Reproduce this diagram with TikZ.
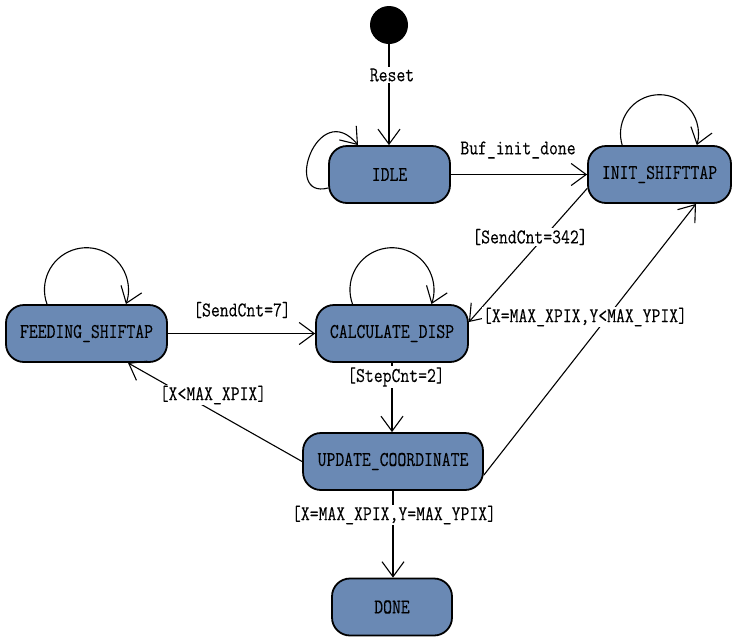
\documentclass[tikz,border=0pt]{standalone}
\usepackage{fontspec}
\newfontfamily\lblfont[FakeStretch=0.82,FakeBold=0.15]{Latin Modern Mono}
\usetikzlibrary{arrows.meta}
\definecolor{stateblue}{RGB}{106,137,180}
\begin{document}
\begin{tikzpicture}[x=1pt,y=1pt,
  every node/.style={font=\lblfont\fontsize{21pt}{24pt}\selectfont},
  stbox/.style={draw=black, line width=1.8pt, fill=stateblue, rounded corners=18pt,
                minimum height=57pt, inner sep=0pt},
  conn/.style={line width=1.1pt, -{Straight Barb[length=15pt,width=22pt]}},
  lbl/.style={fill=white, inner sep=1pt}]
\useasboundingbox (0,0) rectangle (738,-643);

% states
\node[fill=black, circle, minimum size=38pt, inner sep=0pt] (start) at (389,-25) {};
\node[stbox, minimum width=121pt] (idle) at (389.5,-174.5) {IDLE};
\node[stbox, minimum width=143pt] (init) at (659.5,-174.5) {INIT\_SHIFTTAP};
\node[stbox, minimum width=161pt] (feed) at (86.5,-333.5) {FEEDING\_SHIFTAP};
\node[stbox, minimum width=152pt] (calc) at (392,-333.5) {CALCULATE\_DISP};
\node[stbox, minimum width=180pt] (upd) at (393,-461.5) {UPDATE\_COORDINATE};
\node[stbox, minimum width=120pt] (done) at (392,-607) {DONE};

% transitions
\draw[conn] (start.south) -- (start.south |- idle.north);
\draw[conn] (idle) -- (init);
\draw[conn] ([yshift=-14pt]init.west) -- ([yshift=11.5pt]calc.east);
\draw[conn] ([yshift=-13.5pt]upd.east) -- ([xshift=36.5pt]init.south);
\draw[conn] (feed) -- (calc);
\draw[conn] (upd.west) -- ([xshift=41.5pt]feed.south);
\draw[conn] (calc.south) -- (calc.south |- upd.north);
\draw[conn] (upd.south) -- (upd.south |- done.north);

% self loops
\draw[conn] ([yshift=-13.5pt]idle.west) .. controls +(-46,-12) and +(-40,48) .. ([xshift=-31.5pt]idle.north);
\draw[conn] ([xshift=-37.3pt]init.north) arc[start angle=197, end angle=-17, radius=39];
\draw[conn] ([xshift=-39.5pt]calc.north) arc[start angle=200, end angle=-20, radius=42];
\draw[conn] ([xshift=-39.5pt]feed.north) arc[start angle=200, end angle=-20, radius=42];

% labels
\node[lbl] (lreset) at (392,-75) {Reset};
\node (lbuf) at (518,-150) {Buf\_init\_done};
\node[lbl] (l342) at (530,-237) {[SendCnt=342]};
\node[lbl] (lxy) at (585,-317) {[X=MAX\_XPIX,Y<MAX\_YPIX]};
\node (l7) at (242,-310) {[SendCnt=7]};
\node[lbl] (lx) at (213,-395) {[X<MAX\_XPIX]};
\node[lbl] (lstep) at (396,-377) {[StepCnt=2]};
\node[lbl] (lxyd) at (394,-515) {[X=MAX\_XPIX,Y=MAX\_YPIX]};
\end{tikzpicture}
\end{document}
